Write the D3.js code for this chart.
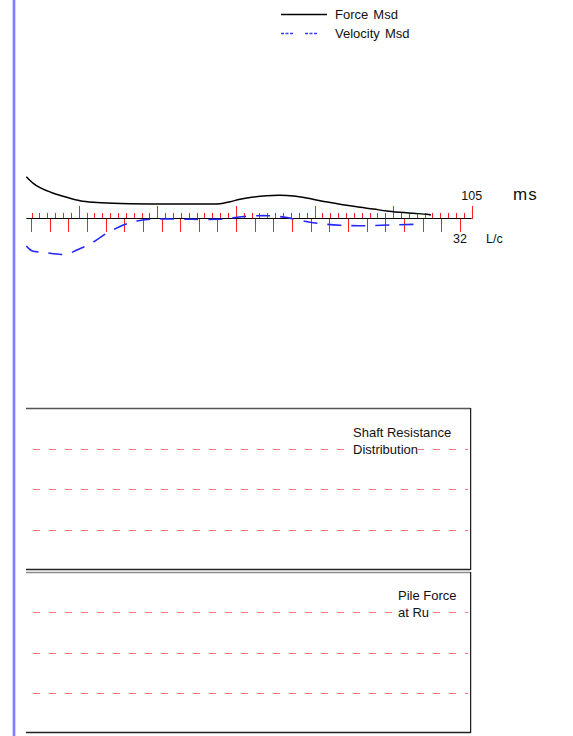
<!DOCTYPE html>
<html>
<head>
<meta charset="utf-8">
<script src="https://cdn.jsdelivr.net/npm/d3@7/dist/d3.min.js"></script>
<style>
  body { margin: 0; background: #fff; }
  svg { display: block; }
  text { font-family: "Liberation Sans", Arial, sans-serif; fill: #111; }
</style>
</head>
<body>
<svg id="chart" width="573" height="736"></svg>
<script>
// ---- record window and axes ----
const timeDomain = [48.33, 105];          // ms shown on the record
const msTicks = d3.range(49, 106, 1);     // 1 ms ticks above the baseline
const msMajorTicks = [55, 65, 75, 85, 95, 105];
const msLabel = 105;
const lcDomain = [8.75, 32.63];           // L/c scale under the baseline
const lcTicks = d3.range(9, 33, 1);
const lcLabel = 32;

// ---- measured force (black) ----
const forceTime  = [48.33, 49.22, 50.07, 51.77, 53.47, 55.16, 56.86, 59.4, 64.07, 67.04, 71.29, 72.98,
                    74.25, 75.52, 77.22, 78.92, 80.61, 82.3, 84.0, 85.7, 87.39, 89.1, 90.79, 92.48,
                    94.19, 95.88, 97.57, 99.27, 99.82];
const forceValue = [41.3, 34.7, 30.3, 24.7, 20.7, 17.3, 15.7, 14.7, 14.0, 14.0, 14.0, 14.3,
                    16.3, 18.7, 21.0, 22.3, 22.7, 22.0, 20.0, 17.3, 15.0, 12.7, 10.7, 9.0,
                    7.0, 5.7, 4.7, 3.7, 3.0];

// ---- measured velocity (blue, dashed) ----
const velTime  = [48.33, 49.02, 50.5, 52.2, 53.47, 54.75, 56.44, 58.56, 60.67, 62.38, 64.07, 66.23,
                  69.41, 72.72, 74.25, 75.78, 78.96, 81.5, 82.14, 85.07, 88.25, 91.43, 94.61, 97.79, 98.8];
const velValue = [-28, -32.7, -34.3, -36, -36.3, -32, -26, -15.3, -7, -3, -1.3, -1,
                  -1.3, -1.3, -0.3, 1.3, 2.3, 0.5, -0.7, -5, -7.3, -7.7, -7, -6.3, -6];

// ---- lower panels ----
const panels = [
  { title: ["Shaft Resistance", "Distribution"], top: 408, bottom: 570 },
  { title: ["Pile Force", "at Ru"], top: 572, bottom: 733 }
];
const gridLevels = [0.25, 0.5, 0.75];

const legendItems = [
  { name: "Force Msd", color: "#000", dash: null },
  { name: "Velocity Msd", color: "#3a3aff", dash: "3,1.5,3,1.5,3,12" }
];

const svg = d3.select("#chart");
const crisp = v => Math.round(v) + 0.5;

// page margin rule
svg.append("line").attr("x1", 14).attr("x2", 14).attr("y1", 0).attr("y2", 736)
  .attr("stroke", "#c4c4ff").attr("stroke-width", 3.5);
svg.append("line").attr("x1", 14).attr("x2", 14).attr("y1", 0).attr("y2", 736)
  .attr("stroke", "#5a5aff").attr("stroke-width", 1.3);

const x = d3.scaleLinear().domain(timeDomain).range([26.3, 471.7]);
const xLc = d3.scaleLinear().domain(lcDomain).range([26.3, 471.7]);
const y = d3.scaleLinear().domain([-50, 50]).range([268, 168]);
const y0 = Math.round(y(0)) + 0.5;

// legend
const legend = svg.append("g");
legendItems.forEach((d, i) => {
  const ly = 14.5 + i * 19;
  legend.append("line").attr("x1", 281).attr("x2", 327).attr("y1", ly).attr("y2", ly)
    .attr("stroke", d.color).attr("stroke-width", 1.3)
    .attr("stroke-dasharray", d.dash);
  legend.append("text").attr("x", 335).attr("y", ly + 4.8)
    .attr("font-size", 13).attr("word-spacing", 1.5).text(d.name);
});

// time ticks (above) and L/c ticks (below)
const ticks = svg.append("g").attr("stroke", "#ff1f1f").attr("stroke-width", 1)
  .attr("shape-rendering", "crispEdges");
ticks.selectAll("line.ms").data(msTicks).join("line").attr("class", "ms")
  .attr("x1", d => crisp(x(d))).attr("x2", d => crisp(x(d)))
  .attr("y1", y0).attr("y2", d => msMajorTicks.includes(d) ? y0 - 13 : y0 - 6);
ticks.selectAll("line.lc").data(lcTicks).join("line").attr("class", "lc")
  .attr("x1", d => crisp(xLc(d))).attr("x2", d => crisp(xLc(d)))
  .attr("y1", y0).attr("y2", y0 + 13);

// baseline
svg.append("line").attr("x1", x(timeDomain[0])).attr("x2", x(timeDomain[1]))
  .attr("y1", y0).attr("y2", y0).attr("stroke", "#000").attr("stroke-width", 1.2);

// axis labels
svg.append("text").attr("x", x(msLabel)).attr("y", 200).attr("text-anchor", "middle")
  .attr("font-size", 12.5).text(msLabel);
svg.append("text").attr("x", 513).attr("y", 199.5).attr("font-size", 17)
  .attr("letter-spacing", 1).text("ms");
svg.append("text").attr("x", xLc(lcLabel)).attr("y", 243).attr("text-anchor", "middle")
  .attr("font-size", 12.5).text(lcLabel);
svg.append("text").attr("x", 486).attr("y", 243).attr("font-size", 12.5).text("L/c");

// curves
const line = d3.line().x(d => x(d[0])).y(d => y(d[1])).curve(d3.curveCatmullRom);
svg.append("path").datum(d3.zip(forceTime, forceValue)).attr("d", line)
  .attr("fill", "none").attr("stroke", "#000").attr("stroke-width", 1.5);
svg.append("path").datum(d3.zip(velTime, velValue)).attr("d", line)
  .attr("fill", "none").attr("stroke", "#2626ff").attr("stroke-width", 1.6)
  .attr("stroke-dasharray", "14,10");

// lower panels
const left = 26, right = 470.5;
panels.forEach((p, i) => {
  const g = svg.append("g");
  const py = d3.scaleLinear().domain([0, 1]).range([p.top, p.bottom]);
  g.selectAll("line.grid").data(gridLevels).join("line").attr("class", "grid")
    .attr("x1", 33).attr("x2", 468)
    .attr("y1", d => crisp(py(d))).attr("y2", d => crisp(py(d)))
    .attr("stroke", "#ff7878").attr("stroke-width", 1)
    .attr("shape-rendering", "crispEdges")
    .attr("stroke-dasharray", "7,9");
  // frame: top, right, bottom
  g.append("line").attr("x1", left).attr("x2", right).attr("y1", p.top + 0.5).attr("y2", p.top + 0.5)
    .attr("stroke", i === 0 ? "#555" : "#8a8a8a").attr("stroke-width", 1.6);
  g.append("line").attr("x1", right + 1).attr("x2", right + 1).attr("y1", p.top).attr("y2", p.bottom)
    .attr("stroke", "#c8c8c8").attr("stroke-width", 1);
  g.append("line").attr("x1", right).attr("x2", right).attr("y1", p.top).attr("y2", p.bottom)
    .attr("stroke", "#222").attr("stroke-width", 1);
  g.append("line").attr("x1", left).attr("x2", right).attr("y1", p.bottom - 0.5).attr("y2", p.bottom - 0.5)
    .attr("stroke", "#222").attr("stroke-width", 1.4);
  // title lines over a white backing
  const tx = i === 0 ? 353 : 398;
  const ty = i === 0 ? 436.5 : 600;
  p.title.forEach((t, k) => {
    const txt = g.append("text").attr("x", tx).attr("y", ty + k * 17)
      .attr("font-size", 13).text(t);
    const b = txt.node().getBBox();
    g.insert("rect", () => txt.node())
      .attr("x", b.x).attr("y", b.y + 2).attr("width", b.width).attr("height", b.height - 4)
      .attr("fill", "#fff");
  });
});
</script>
</body>
</html>
